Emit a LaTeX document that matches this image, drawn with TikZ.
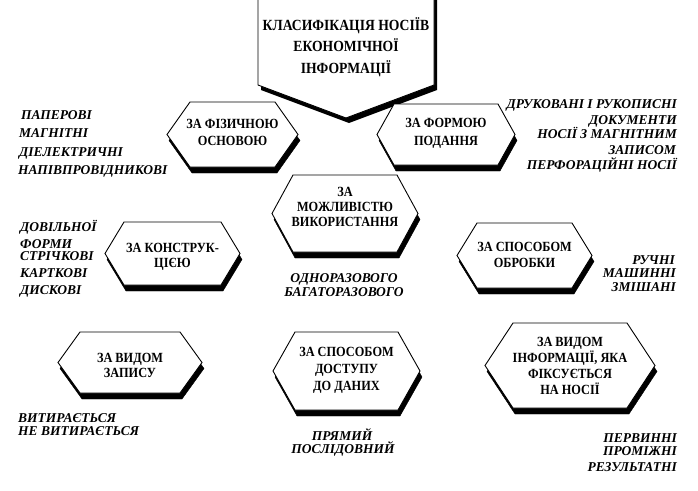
\documentclass[tikz,border=0pt]{standalone}
\usepackage{fontspec}
\setmainfont{Liberation Serif}
\newfontfamily\boxfont[FakeStretch=0.88]{Liberation Serif}
\usetikzlibrary{calc}
\def\hexagon[#1](#2,#3)(#4:#5:#6){\draw[#1] ({#2-#4},#3) -- ({#2-#4+#6},{#3-#5}) -- ({#2+#4-#6},{#3-#5}) -- ({#2+#4},#3) -- ({#2+#4-#6},{#3+#5}) -- ({#2-#4+#6},{#3+#5}) -- cycle;}
\def\shadowhex(#1,#2)(#3:#4:#5){\hexagon[fill=black, draw=black, shift={(2,6)}](#1,#2)(#3:#4:#5)\hexagon[fill=white, line width=0.9pt](#1,#2)(#3:#4:#5)}

\begin{document}
\begin{tikzpicture}[x=1pt, y=-1pt,
	boxtext/.style={align=center, inner sep=0pt, font=\boxfont\bfseries\fontsize{14}{16}\selectfont},
	lab/.style={inner sep=0pt, text height=9pt, text depth=0pt, font=\fontsize{13.5}{15}\selectfont\bfseries\itshape}]
			\useasboundingbox (0,0) rectangle (698,490);
			%%%%% HEAD %%%%%
			
			\fill[black] (261,0) -- (261,90) -- (349,123) -- (437,90) -- (437,0) -- cycle;
			\draw[fill=white, line width=0.9pt] (258,0) -- (258,85) -- (346,118) -- (434,85) -- (434,0);
			\node[boxtext, font=\boxfont\bfseries\fontsize{15.5}{21.5}\selectfont] (title) at (346,47) {КЛАСИФІКАЦІЯ НОСІЇВ\\ЕКОНОМІЧНОЇ\\ІНФОРМАЦІЇ};
			
			%%%%% HEXAGONS %%%%%
			
			\shadowhex(232.5,134.5)(65.5:32.5:23)
			\node[boxtext, font=\boxfont\bfseries\fontsize{14}{17}\selectfont] (fiz) at (232.5,132) {ЗА ФІЗИЧНОЮ\\ОСНОВОЮ};
			
			\shadowhex(446,134.5)(69:30.5:17)
			\node[boxtext, font=\boxfont\bfseries\fontsize{14}{18}\selectfont] (forma) at (446,133) {ЗА ФОРМОЮ\\ПОДАННЯ};
			
			\shadowhex(345,213.5)(73:38.5:21)
			\node[boxtext, font=\boxfont\bfseries\fontsize{14}{15}\selectfont] (mozhl) at (345,207) {ЗА\\МОЖЛИВІСТЮ\\ВИКОРИСТАННЯ};
			
			\shadowhex(172.5,253.5)(67.5:31.5:19)
			\node[boxtext, font=\boxfont\bfseries\fontsize{14}{15}\selectfont] (konstr) at (172.5,257) {ЗА КОНСТРУК-\\ЦІЄЮ};
			
			\shadowhex(524.5,255.5)(67.5:32.5:20)
			\node[boxtext] (obrob) at (524.5,255) {ЗА СПОСОБОМ\\ОБРОБКИ};
			
			\shadowhex(130,362.5)(72:30.5:22)
			\node[boxtext, font=\boxfont\bfseries\fontsize{14}{15}\selectfont] (zapys) at (130,365) {ЗА ВИДОМ\\ЗАПИСУ};
			
			\shadowhex(346.5,371)(73.5:39:22)
			\node[boxtext, font=\boxfont\bfseries\fontsize{14}{17}\selectfont] (dostup) at (346.5,370) {ЗА СПОСОБОМ\\ДОСТУПУ\\ДО ДАНИХ};
			
			\shadowhex(570,365.5)(85:42.5:28)
			\node[boxtext, font=\boxfont\bfseries\fontsize{14}{16}\selectfont] (vyd) at (570,366) {ЗА ВИДОМ\\ІНФОРМАЦІЇ, ЯКА\\ФІКСУЄТЬСЯ\\НА НОСІЇ};
			
			%%%%% LABELS %%%%%
			
			\node[lab, anchor=west] (paper) at (21,115) {ПАПЕРОВІ};
			\node[lab, anchor=west] (magnet) at (19,133) {МАГНІТНІ};
			\node[lab, anchor=west] (diel) at (19,152) {ДІЕЛЕКТРИЧНІ};
			\node[lab, anchor=west] (napiv) at (18,170) {НАПІВПРОВІДНИКОВІ};
			
			\node[lab, anchor=east] (druk) at (677,104) {ДРУКОВАНІ І РУКОПИСНІ};
			\node[lab, anchor=east] (dokum) at (677,120) {ДОКУМЕНТИ};
			\node[lab, anchor=east] (nosii) at (677,134) {НОСІЇ З МАГНІТНИМ};
			\node[lab, anchor=east] (zapysom) at (676,150) {ЗАПИСОМ};
			\node[lab, anchor=east] (perf) at (677,165) {ПЕРФОРАЦІЙНІ НОСІЇ};
			
			\node[lab, anchor=west] (dovil) at (20,227) {ДОВІЛЬНОЇ};
			\node[lab, anchor=west] (formy) at (20,244) {ФОРМИ};
			\node[lab, anchor=west] (strich) at (20,256) {СТРІЧКОВІ};
			\node[lab, anchor=west] (kartk) at (20,273) {КАРТКОВІ};
			\node[lab, anchor=west] (disk) at (20,290) {ДИСКОВІ};
			
			\node[lab, anchor=east] (ruchni) at (675,260) {РУЧНІ};
			\node[lab, anchor=east] (mashyn) at (676,273) {МАШИННІ};
			\node[lab, anchor=east] (zmish) at (676,287) {ЗМІШАНІ};
			
			\node[lab] (odno) at (344,278) {ОДНОРАЗОВОГО};
			\node[lab] (bagato) at (344,292) {БАГАТОРАЗОВОГО};
			
			\node[lab, anchor=west] (vytyr) at (18,418) {ВИТИРАЄТЬСЯ};
			\node[lab, anchor=west] (nevytyr) at (18,431) {НЕ ВИТИРАЄТЬСЯ};
			
			\node[lab] (pryam) at (342,436) {ПРЯМИЙ};
			\node[lab] (poslid) at (343,449) {ПОСЛІДОВНИЙ};
			
			\node[lab, anchor=east] (pervyn) at (677,438) {ПЕРВИННІ};
			\node[lab, anchor=east] (promizh) at (677,451) {ПРОМІЖНІ};
			\node[lab, anchor=east] (rezult) at (677,467) {РЕЗУЛЬТАТНІ};
			
			%%%%% END %%%%%
		\end{tikzpicture}
\end{document}
